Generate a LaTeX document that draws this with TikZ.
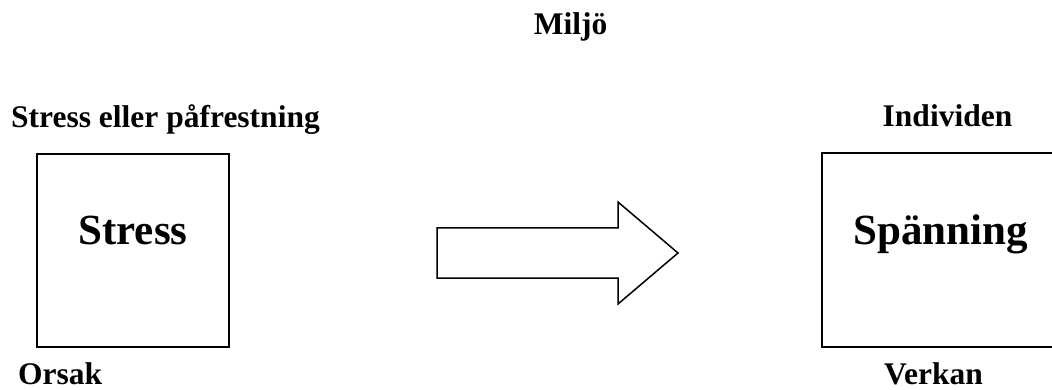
\documentclass[tikz,border=0pt]{standalone}
\usepackage{fontspec}
\setmainfont{Liberation Serif}
\begin{document}
\begin{tikzpicture}[x=1pt,y=-1pt,
  lbl/.style={font=\fontsize{31.5}{36}\selectfont\bfseries, inner sep=0pt},
  big/.style={font=\fontsize{43}{48}\selectfont\bfseries, inner sep=0pt},
  frame/.style={draw=black, line width=1.5pt, fill=none, inner sep=0pt, rectangle},
  bigarrow/.style={draw=black, line width=1.5pt, fill=white, line join=miter}]
\useasboundingbox (0,0) rectangle (1052,390);
\begin{scope}
\clip (0,0) rectangle (1052,390);
% title
\node[lbl, anchor=base] (miljo) at (570.5,35) {Miljö};
% left side
\node[lbl, anchor=base west] (cause) at (11,128) {Stress eller påfrestning};
\node[frame, minimum width=192pt, minimum height=193pt] (lbox) at (133,250.5) {};
\node[big, anchor=base] (stress) at (133,244) {Stress};
\node[lbl, anchor=base west] (orsak) at (18,384) {Orsak};
% arrow
\draw[bigarrow] (437,228) -- (618,228) -- (618,202) -- (678,253) -- (618,304) -- (618,278) -- (437,278) -- cycle;
% right side
\node[lbl, anchor=base] (indiv) at (947.5,127) {Individen};
\node[frame, minimum width=238pt, minimum height=194pt] (rbox) at (941,250) {};
\node[big, anchor=base] (spanning) at (940.5,244) {Spänning};
\node[lbl, anchor=base] (verkan) at (933.5,384) {Verkan};
\end{scope}
\end{tikzpicture}
\end{document}
